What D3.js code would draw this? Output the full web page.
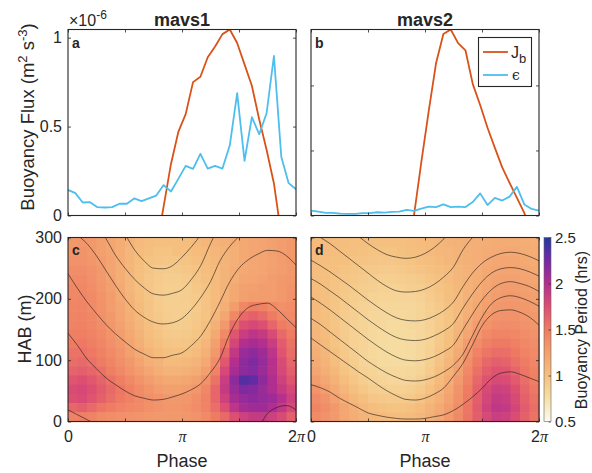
<!DOCTYPE html>
<html><head><meta charset="utf-8">
<script src="https://cdn.jsdelivr.net/npm/d3@7"></script>
<style>
body{margin:0;background:#fff}
svg{display:block}
text{font-family:"Liberation Sans",Arial,Helvetica,sans-serif;fill:#262626}
</style>
</head><body>
<svg id="chart" width="592" height="473"></svg>
<script>
// ---------------- DATA ----------------
const titles = ["mavs1", "mavs2"];
const panelLetters = ["a", "b", "c", "d"];
const phaseTicks = [0, Math.PI / 2, Math.PI, 3 * Math.PI / 2, 2 * Math.PI];
const phaseTickLabels = ["0", "", "π", "", "2π"];
const fluxTicksA = [0, 0.5, 1];
const fluxTickLabelsA = ["0", "0.5", "1"];
const fluxTicksB = [0, 0.1, 0.2];
const habTicks = [0, 100, 200, 300];
const cbarTicks = [0.5, 1, 1.5, 2, 2.5];

// line data: 32 phase samples over one tidal cycle (units 1e-6 m^2 s^-3)
const jbMavs1 = [null,null,null,null,null,null,null,null,null,null,null,null,-0.19,0.05,0.29,0.47,0.57,0.75,0.78,0.89,0.95,1.02,1.046,0.97,0.85,0.73,0.54,0.37,0.18,-0.11,null,null];
const epsMavs1 = [0.144,0.126,0.073,0.075,0.047,0.045,0.047,0.066,0.066,0.096,0.081,0.096,0.112,0.171,0.135,0.206,0.279,0.262,0.347,0.264,0.279,0.264,0.395,0.688,0.307,0.553,0.457,0.575,0.897,0.331,0.182,0.148];
const jbMavs2 = [null,null,null,null,null,null,null,null,null,null,null,null,null,null,0.0,0.082,0.16,0.234,0.279,0.286,0.265,0.254,0.202,0.17,0.135,0.104,0.074,0.05,0.027,0.004,-0.03,null];
const epsMavs2 = [0.0074,0.006,0.004,0.004,0.003,0.0025,0.0025,0.0035,0.0035,0.005,0.0045,0.0055,0.006,0.0085,0.007,0.0105,0.0135,0.013,0.017,0.013,0.0135,0.013,0.0208,0.034,0.016,0.027,0.023,0.029,0.044,0.017,0.010,0.0074];

// heat map: height-above-bottom bin centres (m), top row first
const habBins = [292.5,277.5,262.5,247.5,232.5,217.5,202.5,187.5,172.5,157.5,142.5,127.5,112.5,97.5,82.5,67.5,52.5,37.5,22.5,7.5];
// buoyancy period (hrs), 24 phase bins per row
const periodMavs1 = [
[1.30,1.32,1.30,1.25,1.20,1.15,1.10,1.05,1.02,1.00,1.00,1.00,1.02,1.05,1.08,1.10,1.12,1.15,1.18,1.20,1.22,1.25,1.28,1.30],
[1.32,1.33,1.30,1.25,1.20,1.15,1.08,1.03,1.00,0.98,0.98,1.00,1.00,1.03,1.05,1.08,1.10,1.13,1.18,1.20,1.22,1.25,1.28,1.30],
[1.35,1.35,1.32,1.28,1.22,1.15,1.08,1.02,0.98,0.96,0.95,0.96,0.98,1.00,1.03,1.06,1.10,1.13,1.18,1.20,1.22,1.24,1.27,1.30],
[1.38,1.38,1.35,1.30,1.22,1.15,1.07,1.00,0.96,0.93,0.92,0.93,0.95,0.98,1.02,1.05,1.10,1.15,1.18,1.20,1.22,1.25,1.28,1.30],
[1.40,1.40,1.36,1.30,1.24,1.15,1.07,1.00,0.95,0.92,0.90,0.90,0.92,0.96,1.00,1.04,1.10,1.15,1.20,1.22,1.24,1.27,1.30,1.32],
[1.42,1.42,1.38,1.32,1.25,1.17,1.08,1.00,0.95,0.91,0.89,0.89,0.90,0.94,0.98,1.03,1.10,1.18,1.24,1.26,1.27,1.28,1.30,1.33],
[1.42,1.43,1.40,1.34,1.27,1.18,1.10,1.02,0.96,0.91,0.88,0.88,0.90,0.92,0.97,1.03,1.10,1.18,1.25,1.28,1.28,1.28,1.30,1.35],
[1.43,1.44,1.40,1.35,1.28,1.20,1.12,1.04,0.97,0.92,0.89,0.88,0.89,0.92,0.97,1.05,1.14,1.28,1.42,1.48,1.46,1.40,1.36,1.38],
[1.44,1.45,1.42,1.36,1.30,1.22,1.14,1.06,0.98,0.93,0.90,0.89,0.90,0.93,0.98,1.08,1.20,1.42,1.60,1.65,1.60,1.50,1.42,1.40],
[1.45,1.46,1.43,1.38,1.32,1.24,1.16,1.08,1.00,0.95,0.91,0.90,0.91,0.94,1.00,1.12,1.30,1.58,1.75,1.80,1.75,1.62,1.50,1.45],
[1.48,1.48,1.45,1.40,1.34,1.27,1.18,1.10,1.02,0.97,0.93,0.92,0.93,0.96,1.03,1.18,1.40,1.72,1.88,1.95,1.90,1.78,1.60,1.50],
[1.50,1.52,1.48,1.43,1.36,1.30,1.22,1.13,1.05,1.00,0.96,0.95,0.96,1.00,1.08,1.25,1.50,1.82,2.00,2.05,2.00,1.88,1.68,1.55],
[1.55,1.55,1.52,1.46,1.40,1.33,1.25,1.17,1.09,1.04,1.00,0.99,1.00,1.04,1.12,1.30,1.60,1.92,2.10,2.15,2.08,1.95,1.72,1.58],
[1.58,1.60,1.56,1.50,1.44,1.37,1.30,1.22,1.14,1.09,1.05,1.04,1.06,1.10,1.18,1.38,1.70,2.00,2.15,2.20,2.12,1.98,1.78,1.62],
[1.64,1.66,1.62,1.56,1.48,1.41,1.34,1.27,1.20,1.14,1.10,1.10,1.12,1.16,1.25,1.45,1.80,2.05,2.15,2.18,2.10,1.98,1.80,1.66],
[1.72,1.75,1.70,1.64,1.55,1.48,1.41,1.34,1.27,1.22,1.18,1.18,1.20,1.25,1.35,1.55,1.88,2.15,2.35,2.30,2.15,2.02,1.85,1.72],
[1.78,1.80,1.75,1.68,1.60,1.53,1.46,1.39,1.33,1.28,1.25,1.25,1.28,1.32,1.42,1.62,1.90,2.10,2.20,2.18,2.10,2.02,1.90,1.80],
[1.75,1.78,1.72,1.65,1.58,1.51,1.46,1.41,1.37,1.33,1.30,1.30,1.32,1.37,1.45,1.62,1.85,2.05,2.12,2.15,2.12,2.08,1.98,1.85],
[1.62,1.66,1.60,1.54,1.49,1.45,1.42,1.40,1.36,1.33,1.32,1.32,1.34,1.38,1.45,1.58,1.75,1.95,2.05,2.08,2.08,2.02,1.92,1.80],
[1.45,1.48,1.45,1.40,1.38,1.36,1.35,1.33,1.32,1.30,1.30,1.30,1.32,1.35,1.40,1.50,1.60,1.75,1.85,1.90,1.90,1.85,1.78,1.65]
];
const periodMavs2 = [
[1.05,1.04,1.03,1.02,1.01,1.00,1.00,1.00,1.00,1.01,1.02,1.03,1.05,1.07,1.09,1.11,1.13,1.14,1.15,1.16,1.16,1.16,1.15,1.14],
[1.04,1.03,1.02,1.01,1.00,0.99,0.98,0.98,0.98,0.99,1.00,1.02,1.04,1.06,1.08,1.10,1.12,1.14,1.16,1.17,1.18,1.18,1.16,1.15],
[1.03,1.02,1.01,1.00,0.98,0.97,0.96,0.95,0.95,0.96,0.98,1.00,1.02,1.04,1.07,1.09,1.12,1.14,1.17,1.19,1.20,1.20,1.18,1.16],
[1.02,1.01,1.00,0.98,0.96,0.94,0.93,0.92,0.92,0.93,0.95,0.97,0.99,1.02,1.05,1.08,1.11,1.14,1.18,1.21,1.22,1.22,1.20,1.18],
[1.02,1.00,0.98,0.96,0.94,0.92,0.90,0.89,0.89,0.90,0.91,0.93,0.96,0.99,1.03,1.07,1.11,1.15,1.19,1.23,1.24,1.24,1.22,1.20],
[1.02,1.00,0.97,0.94,0.92,0.90,0.88,0.87,0.86,0.87,0.88,0.90,0.93,0.97,1.01,1.06,1.11,1.16,1.21,1.25,1.27,1.27,1.25,1.23],
[1.03,1.00,0.96,0.93,0.90,0.88,0.86,0.85,0.84,0.84,0.85,0.87,0.91,0.95,1.00,1.05,1.11,1.17,1.23,1.27,1.29,1.29,1.27,1.25],
[1.04,1.00,0.96,0.92,0.89,0.86,0.84,0.83,0.82,0.82,0.83,0.85,0.89,0.93,0.99,1.05,1.12,1.19,1.26,1.30,1.32,1.32,1.30,1.28],
[1.05,1.01,0.96,0.91,0.88,0.85,0.83,0.82,0.81,0.81,0.82,0.84,0.88,0.92,0.98,1.05,1.14,1.22,1.29,1.33,1.35,1.35,1.32,1.30],
[1.06,1.02,0.96,0.91,0.87,0.84,0.82,0.81,0.80,0.80,0.81,0.83,0.87,0.92,0.98,1.07,1.17,1.27,1.34,1.38,1.39,1.38,1.35,1.32],
[1.08,1.03,0.97,0.91,0.87,0.84,0.81,0.80,0.79,0.79,0.80,0.82,0.86,0.92,0.99,1.09,1.21,1.32,1.40,1.44,1.44,1.42,1.38,1.35],
[1.10,1.04,0.98,0.92,0.87,0.84,0.81,0.79,0.78,0.78,0.79,0.82,0.86,0.93,1.01,1.13,1.27,1.39,1.47,1.51,1.51,1.47,1.42,1.38],
[1.13,1.07,1.00,0.93,0.88,0.84,0.81,0.79,0.78,0.78,0.79,0.82,0.87,0.95,1.04,1.17,1.32,1.45,1.54,1.58,1.57,1.52,1.45,1.40],
[1.17,1.10,1.02,0.95,0.90,0.85,0.82,0.80,0.79,0.79,0.80,0.83,0.89,0.97,1.07,1.21,1.37,1.51,1.61,1.66,1.64,1.57,1.50,1.43],
[1.21,1.14,1.06,0.98,0.92,0.87,0.84,0.82,0.81,0.81,0.82,0.85,0.91,1.00,1.11,1.25,1.41,1.56,1.67,1.73,1.71,1.63,1.54,1.46],
[1.27,1.19,1.11,1.02,0.95,0.90,0.87,0.84,0.83,0.83,0.84,0.88,0.95,1.04,1.15,1.29,1.45,1.61,1.73,1.79,1.77,1.69,1.58,1.48],
[1.34,1.26,1.17,1.08,1.00,0.94,0.90,0.88,0.87,0.87,0.88,0.92,0.99,1.08,1.19,1.33,1.49,1.65,1.79,1.86,1.84,1.75,1.62,1.52],
[1.40,1.33,1.24,1.14,1.06,1.00,0.95,0.93,0.92,0.92,0.93,0.97,1.04,1.12,1.23,1.36,1.51,1.67,1.81,1.90,1.88,1.79,1.65,1.55],
[1.44,1.38,1.30,1.21,1.13,1.06,1.02,0.99,0.98,0.98,0.99,1.03,1.09,1.17,1.27,1.39,1.53,1.69,1.84,1.93,1.91,1.81,1.68,1.58],
[1.40,1.35,1.29,1.21,1.15,1.09,1.06,1.04,1.03,1.03,1.04,1.07,1.12,1.19,1.29,1.41,1.54,1.67,1.79,1.87,1.85,1.77,1.65,1.55]
];

// isopycnal contour heights (m) at 25 phase samples (every pi/12)
const contoursMavs1 = [
[19,11,3,-5,-15,-25,-32,-38,-42,-44,-45,-45,-44,-42,-38,-34,-30,-25,-18,-12,-8,13,23,26,19],
[144,124,102,86,71,60,50,42,38,35,36,40,45,52,62,80,103,142,170,186,191,193,183,168,153],
[241,217,195,176,158,143,130,118,110,104,104,108,112,124,140,165,195,227,250,264,273,279,278,270,255],
[330,305,290,270,246,222,200,182,170,162,159,161,168,183,203,228,262,285,302,320,335,340,345,340,330],
[400,370,345,320,298,271,250,232,218,208,206,209,215,232,255,290,320,340,360,380,390,395,395,390,385],
[450,430,410,380,350,325,305,280,262,250,249,254,268,285,305,330,360,390,410,430,440,445,445,440,435]
];
const contoursMavs2 = [
[60,55,48,38,30,22,14,10,7,5,4,4,5,8,11,18,28,40,54,70,79,81,77,71,65],
[136,125,114,103,92,81,71,60,50,42,36,35,38,45,55,74,95,125,156,174,181,182,178,170,157],
[168,158,146,134,122,110,98,88,79,72,67,66,68,73,81,92,110,140,170,192,202,205,202,196,188],
[203,193,182,170,158,146,134,123,113,105,100,99,101,106,114,125,150,175,198,215,225,228,225,220,212],
[233,224,213,202,190,178,166,155,145,137,133,132,134,140,148,160,185,208,228,242,249,251,249,244,237],
[263,254,244,233,222,210,198,187,177,169,165,164,166,172,181,195,220,242,258,268,274,276,274,269,262],
[310,300,290,278,266,254,242,230,220,213,211,212,216,224,236,252,280,300,315,325,330,330,326,320,312],
[360,350,338,326,314,302,290,280,272,268,266,268,274,284,298,316,336,356,370,378,380,378,372,366,358]
];

// colormap stops (buoyancy period, hrs)
const cmapValues = [0.5, 0.75, 1.0, 1.25, 1.5, 1.75, 2.0, 2.25, 2.5];
const cmapColors = ["#fcfaf1", "#f6e0a6", "#f5c07f", "#f3a06f", "#ef7c62", "#dd4f71", "#b42e8e", "#7329a6", "#22399f"];

const orange = "#D95319", blue = "#4DBEEE", ink = "#262626";

// ---------------- LAYOUT ----------------
const svg = d3.select("#chart");
const colsX = [[68, 296], [311, 539]];
const topY = [29.5, 215.5], botY = [237.5, 421.5];
const TICK = 3;

const linePhase = d3.range(32).map(i => 2 * Math.PI * i / 31);
const contourPhase = d3.range(25).map(k => k * Math.PI / 12);

const color = d3.scaleLinear().domain(cmapValues).range(cmapColors).interpolate(d3.interpolateRgb).clamp(true);

const defs = svg.append("defs");

function clipFor(id, x0, x1, y0, y1) {
  defs.append("clipPath").attr("id", id).append("rect")
    .attr("x", x0).attr("y", y0).attr("width", x1 - x0).attr("height", y1 - y0);
  return `url(#${id})`;
}

function frameAxes(g, x, y, xTicks, yTicks, xLabels, yLabels, x0, x1, y0, y1) {
  const axL = d3.axisLeft(y).tickValues(yTicks).tickSize(-TICK).tickPadding(6)
    .tickFormat((d, i) => yLabels ? yLabels[i] : "");
  const axR = d3.axisRight(y).tickValues(yTicks).tickSize(-TICK).tickFormat("");
  const axB = d3.axisBottom(x).tickValues(xTicks).tickSize(-TICK).tickPadding(9)
    .tickFormat((d, i) => xLabels ? xLabels[i] : "");
  const axT = d3.axisTop(x).tickValues(xTicks).tickSize(-TICK).tickFormat("");
  const gl = g.append("g").attr("transform", `translate(${x0},0)`).call(axL);
  const gr = g.append("g").attr("transform", `translate(${x1},0)`).call(axR);
  const gb = g.append("g").attr("transform", `translate(0,${y1})`).call(axB);
  const gt = g.append("g").attr("transform", `translate(0,${y0})`).call(axT);
  [gl, gr, gb, gt].forEach(a => {
    a.select(".domain").remove();
    a.selectAll(".tick line").attr("stroke", ink).attr("stroke-width", 0.8);
    a.selectAll(".tick text").attr("fill", ink).attr("font-size", 16)
      .style("font-family", '"Liberation Sans",Arial,sans-serif');
  });
  gb.selectAll(".tick text").each(function (d, i) {
    const t = d3.select(this);
    const s = xLabels ? xLabels[i] : "";
    t.text(null);
    if (s.includes("π")) {
      if (s.length > 1) t.append("tspan").text(s.replace("π", ""));
      t.append("tspan").text("π").style("font-family", '"Liberation Serif","DejaVu Serif",serif').style("font-style", "italic");
    } else t.text(s);
  });
  g.append("rect").attr("x", x0).attr("y", y0).attr("width", x1 - x0).attr("height", y1 - y0)
    .attr("fill", "none").attr("stroke", ink).attr("stroke-width", 1.1);
}

// ---------------- TOP PANELS ----------------
const lineSets = [
  { jb: jbMavs1, eps: epsMavs1, dom: [0, 1.046], ticks: fluxTicksA, labels: fluxTickLabelsA },
  { jb: jbMavs2, eps: epsMavs2, dom: [0, 0.286], ticks: fluxTicksB, labels: null }
];
lineSets.forEach((ls, p) => {
  const [x0, x1] = colsX[p];
  const x = d3.scaleLinear().domain([0, 2 * Math.PI]).range([x0, x1]);
  const y = d3.scaleLinear().domain(ls.dom).range([topY[1], topY[0]]);
  const g = svg.append("g");
  const clip = clipFor("clipTop" + p, x0, x1, topY[0], topY[1]);
  const line = d3.line().defined(d => d[1] !== null).x(d => x(d[0])).y(d => y(d[1]));
  const lg = g.append("g").attr("clip-path", clip);
  lg.append("path").datum(linePhase.map((ph, i) => [ph, ls.jb[i]]))
    .attr("d", line).attr("fill", "none").attr("stroke", orange).attr("stroke-width", 1.8).attr("stroke-linejoin", "round");
  lg.append("path").datum(linePhase.map((ph, i) => [ph, ls.eps[i]]))
    .attr("d", line).attr("fill", "none").attr("stroke", blue).attr("stroke-width", 1.8).attr("stroke-linejoin", "round");
  frameAxes(g, x, y, phaseTicks, ls.ticks, null, ls.labels, x0, x1, topY[0], topY[1]);
  g.append("text").attr("x", (x0 + x1) / 2).attr("y", 26).attr("text-anchor", "middle")
    .attr("font-size", 18).attr("font-weight", "bold").attr("fill", "#000").text(titles[p]);
  g.append("text").attr("x", x0 + 4).attr("y", 48).attr("font-size", 14).attr("font-weight", "bold")
    .attr("fill", "#000").text(panelLetters[p]);
});

// exponent label
const ex = svg.append("text").attr("x", 69).attr("y", 25.5).attr("font-size", 16).attr("fill", ink);
ex.append("tspan").text("×10");
ex.append("tspan").attr("dy", -7).attr("font-size", 12).text("-6");

// y label top
const yl = svg.append("text").attr("transform", "translate(34,117) rotate(-90)").attr("text-anchor", "middle")
  .attr("font-size", 18.5).attr("fill", ink);
yl.append("tspan").text("Buoyancy Flux (m");
yl.append("tspan").attr("dy", -7).attr("font-size", 13).text("2");
yl.append("tspan").attr("dy", 7).text(" s");
yl.append("tspan").attr("dy", -7).attr("font-size", 13).text("-3");
yl.append("tspan").attr("dy", 7).text(")");

// legend
const leg = svg.append("g");
leg.append("rect").attr("x", 478.5).attr("y", 37.5).attr("width", 53).attr("height", 49)
  .attr("fill", "#fff").attr("stroke", ink).attr("stroke-width", 1.1);
leg.append("line").attr("x1", 483).attr("x2", 508).attr("y1", 52).attr("y2", 52).attr("stroke", orange).attr("stroke-width", 1.8);
leg.append("line").attr("x1", 483).attr("x2", 508).attr("y1", 75).attr("y2", 75).attr("stroke", blue).attr("stroke-width", 1.8);
const lj = leg.append("text").attr("x", 511).attr("y", 58).attr("font-size", 16).attr("fill", "#000");
lj.append("tspan").text("J");
lj.append("tspan").attr("dy", 5).attr("font-size", 13).text("b");
leg.append("text").attr("x", 512).attr("y", 80).attr("font-size", 14).attr("fill", "#000")
  .style("font-family", '"DejaVu Serif",serif').text("ϵ");

// ---------------- BOTTOM PANELS ----------------
const heatSets = [
  { grid: periodMavs1, contours: contoursMavs1 },
  { grid: periodMavs2, contours: contoursMavs2 }
];
heatSets.forEach((hs, p) => {
  const [x0, x1] = colsX[p];
  const x = d3.scaleLinear().domain([0, 2 * Math.PI]).range([x0, x1]);
  const y = d3.scaleLinear().domain([0, 300]).range([botY[1], botY[0]]);
  const xb = d3.scaleBand().domain(d3.range(hs.grid[0].length)).range([x0, x1]);
  const yb = d3.scaleBand().domain(habBins).range([botY[0], botY[1]]);
  const g = svg.append("g");
  const cells = [];
  hs.grid.forEach((row, r) => row.forEach((v, c) => cells.push({ r, c, v })));
  g.append("g").selectAll("rect").data(cells).join("rect")
    .attr("x", d => xb(d.c)).attr("y", d => yb(habBins[d.r]))
    .attr("width", xb.bandwidth() + 0.6).attr("height", yb.bandwidth() + 0.6)
    .attr("fill", d => color(d.v));
  const clip = clipFor("clipBot" + p, x0, x1, botY[0], botY[1]);
  const cl = d3.line().x((d, i) => x(contourPhase[i])).y(d => y(d)).curve(d3.curveMonotoneX);
  g.append("g").attr("clip-path", clip).selectAll("path").data(hs.contours).join("path")
    .attr("d", cl).attr("fill", "none").attr("stroke", "#1a1a1a").attr("stroke-width", 0.7).attr("stroke-opacity", 0.85);
  frameAxes(g, x, y, phaseTicks, habTicks, phaseTickLabels, p === 0 ? habTicks.map(String) : null, x0, x1, botY[0], botY[1]);
  g.append("text").attr("x", x0 + 4).attr("y", 255).attr("font-size", 14).attr("font-weight", "bold")
    .attr("fill", "#000").text(panelLetters[p + 2]);
  g.append("text").attr("x", (x0 + x1) / 2).attr("y", 467).attr("text-anchor", "middle")
    .attr("font-size", 18).attr("fill", ink).text("Phase");
});

svg.append("text").attr("transform", "translate(31,329) rotate(-90)").attr("text-anchor", "middle")
  .attr("font-size", 18).attr("fill", ink).text("HAB (m)");

// ---------------- COLORBAR ----------------
const cbX0 = 544, cbX1 = 551;
const cy = d3.scaleLinear().domain([0.5, 2.5]).range([botY[1], botY[0]]);
const grad = defs.append("linearGradient").attr("id", "cbgrad").attr("x1", 0).attr("y1", 1).attr("x2", 0).attr("y2", 0);
cmapValues.forEach((v, i) => grad.append("stop").attr("offset", (v - 0.5) / 2).attr("stop-color", cmapColors[i]));
svg.append("rect").attr("x", cbX0).attr("y", botY[0]).attr("width", cbX1 - cbX0).attr("height", botY[1] - botY[0])
  .attr("fill", "url(#cbgrad)");
const cbAx = d3.axisRight(cy).tickValues(cbarTicks).tickSize(-2.5).tickPadding(4).tickFormat(d3.format("~g"));
const cbg = svg.append("g").attr("transform", `translate(${cbX1},0)`).call(cbAx);
cbg.select(".domain").remove();
cbg.selectAll(".tick line").attr("stroke", ink).attr("stroke-width", 0.7);
cbg.selectAll(".tick text").attr("font-size", 15).attr("fill", ink).style("font-family", '"Liberation Sans",Arial,sans-serif');
svg.append("rect").attr("x", cbX0).attr("y", botY[0]).attr("width", cbX1 - cbX0).attr("height", botY[1] - botY[0])
  .attr("fill", "none").attr("stroke", "#666").attr("stroke-width", 0.6);
svg.append("text").attr("transform", "translate(587,330) rotate(-90)").attr("text-anchor", "middle")
  .attr("font-size", 16).attr("fill", ink).text("Buoyancy Period (hrs)");
</script>
</body></html>
